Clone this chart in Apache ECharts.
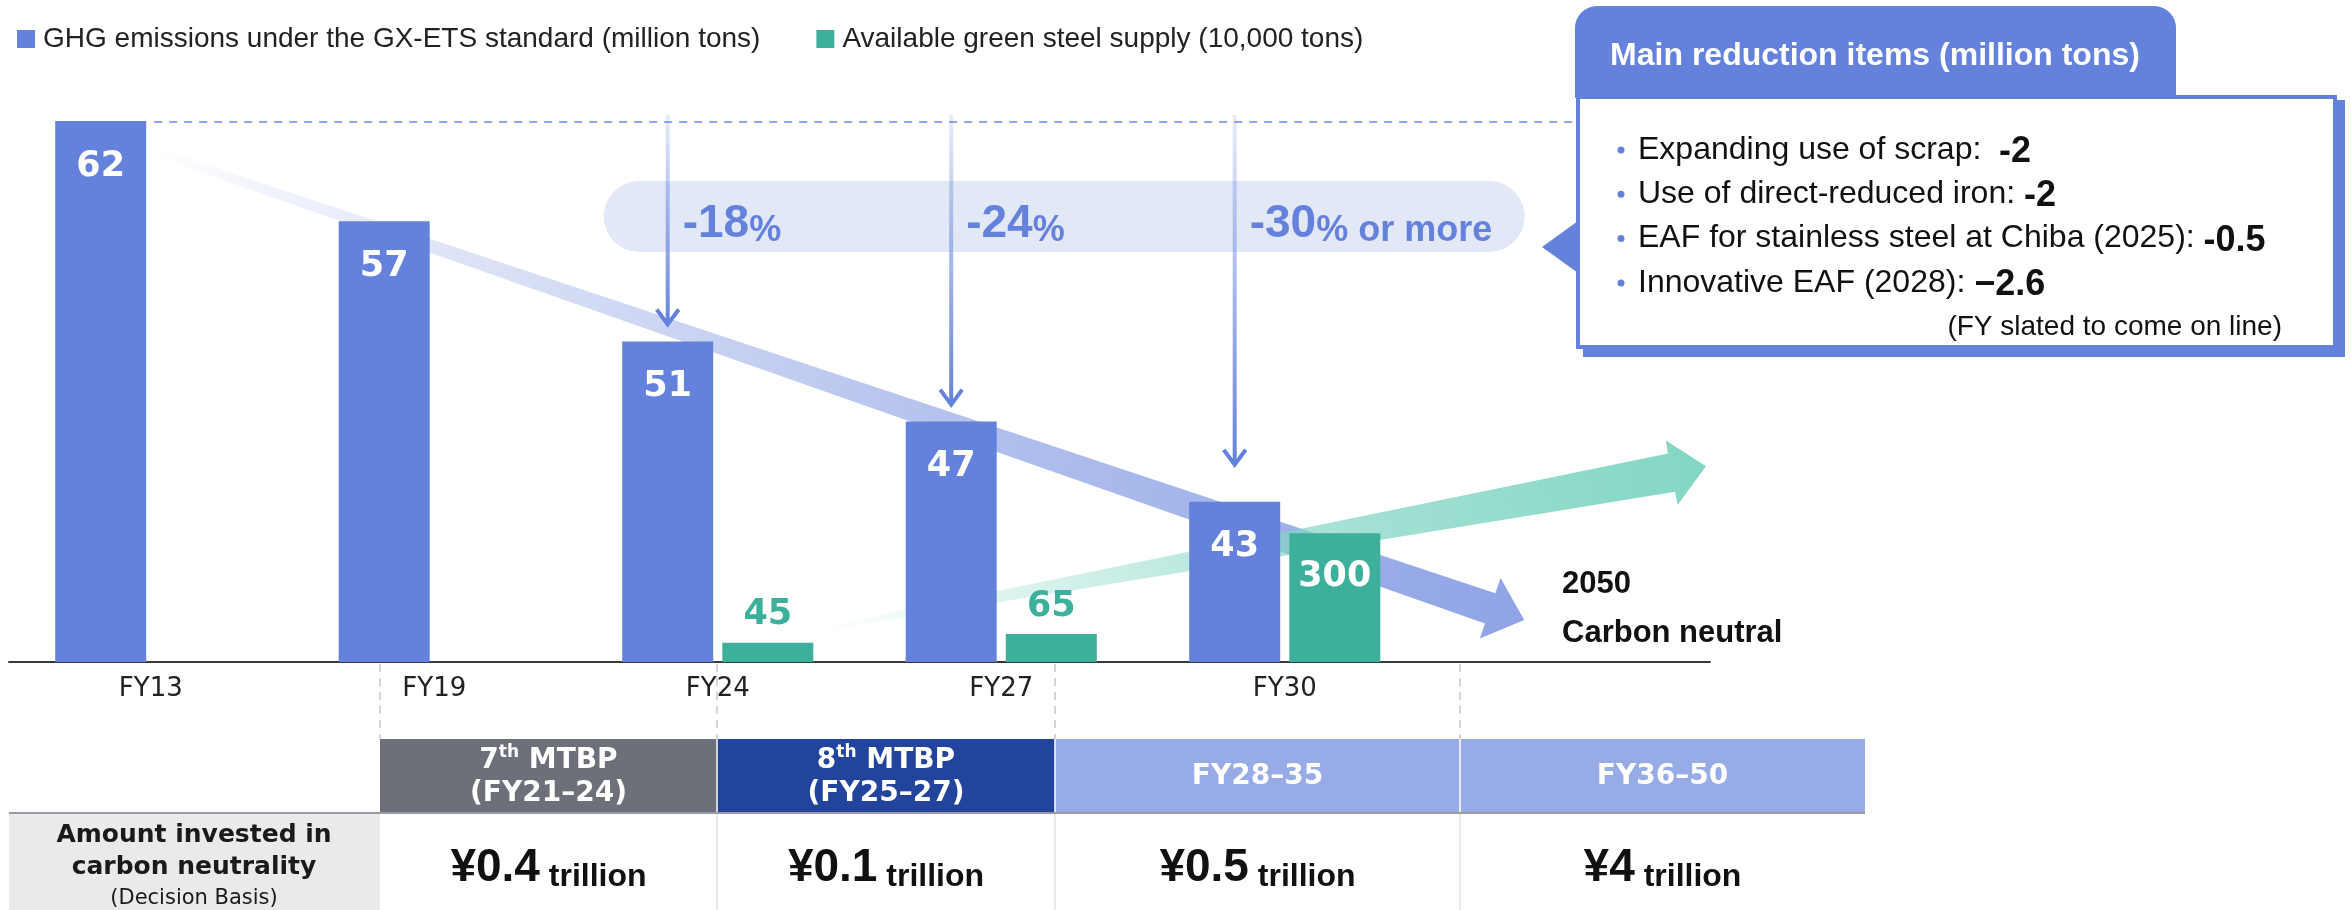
<!DOCTYPE html>
<html>
<head>
<meta charset="utf-8">
<script src="https://cdn.jsdelivr.net/npm/echarts@6/dist/echarts.min.js"></script>
<style>
  html, body { margin: 0; padding: 0; background: #fff; }
  #chart { width: 2351px; height: 910px; }
</style>
</head>
<body>
<div id="chart"></div>
<script>
// data
const categories = ["FY13", "FY19", "FY24", "FY27", "FY30", ""];
const ghgEmissions = [62, 57, 51, 47, 43, null];
const greenSteel = [null, null, 45, 65, 300, null];
const reductionCats = [2, 3, 4];
const reductionNums = ["-18", "-24", "-30"];
const reductionUnits = ["%", "%", "% or more"];
const reductionItems = [
  ["Expanding use of scrap:  ", "-2"],
  ["Use of direct-reduced iron: ", "-2"],
  ["EAF for stainless steel at Chiba (2025): ", "-0.5"],
  ["Innovative EAF (2028): ", "\u22122.6"]
];
const planOrd = ["7", "8", null, null];
const planPeriods = ["(FY21\u201324)", "(FY25\u201327)", "FY28\u201335", "FY36\u201350"];
const investAmounts = ["\u00a50.4", "\u00a50.1", "\u00a50.5", "\u00a54"];

const SANS = '"Liberation Sans", Arial, Helvetica, sans-serif';
const VERD = '"DejaVu Sans", Verdana, sans-serif';
const BLUE = "#6482DC";
const GREEN = "#3CB09A";
const BAR_W = 91;
const BAR_GAP = 9.1;

const chart = echarts.init(document.getElementById("chart"));

const greenData = greenSteel.map((v, i) =>
  i === 4 ? { value: v, label: { position: "insideTop", distance: 26, color: "#fff" } } : v
);

chart.setOption({
  animation: false,
  textStyle: { fontFamily: SANS },
  legend: {
    left: 12,
    top: 20,
    icon: "rect",
    itemWidth: 18,
    itemHeight: 18,
    itemGap: 56,
    textStyle: { fontFamily: SANS, fontSize: 28, color: "#222", padding: [0, 0, 0, 3] },
    data: [
      "GHG emissions under the GX-ETS standard (million tons)",
      "Available green steel supply (10,000 tons)"
    ]
  },
  grid: { left: 9, right: 641, top: 61, bottom: 248, outerBoundsMode: "none" },
  xAxis: {
    type: "category",
    data: categories,
    axisLine: { lineStyle: { color: "#3a3a3a", width: 2 } },
    axisTick: { show: false },
    splitLine: { show: false },
    axisLabel: { interval: 0, margin: 14, fontFamily: VERD, fontSize: 26, color: "#222" }
  },
  yAxis: [
    { type: "value", min: 35, max: 65, interval: 5, show: false, splitLine: { show: false } },
    { type: "value", min: 0, max: 1400, interval: 200, show: false, splitLine: { show: false } }
  ],
  series: [
    {
      name: "GHG emissions under the GX-ETS standard (million tons)",
      type: "bar",
      data: ghgEmissions,
      barWidth: BAR_W,
      barGap: "10%",
      itemStyle: { color: BLUE },
      label: {
        show: true, position: "insideTop", distance: 28,
        color: "#fff", fontFamily: VERD, fontSize: 35, fontWeight: "bold"
      }
    },
    {
      name: "Available green steel supply (10,000 tons)",
      type: "bar",
      yAxisIndex: 1,
      data: greenData,
      barWidth: BAR_W,
      barGap: "10%",
      itemStyle: { color: GREEN },
      label: {
        show: true, position: "top", distance: 10,
        color: GREEN, fontFamily: VERD, fontSize: 35, fontWeight: "bold"
      }
    }
  ]
});

// pixel helpers from the chart's own axes
const catX = i => chart.convertToPixel({ xAxisIndex: 0 }, i);
const yPix = v => chart.convertToPixel({ yAxisIndex: 0 }, v);
const y2Pix = v => chart.convertToPixel({ yAxisIndex: 1 }, v);
const step = catX(1) - catX(0);
const blueCx = i => catX(i) - (BAR_W + BAR_GAP) / 2;
const greenCx = i => catX(i) + (BAR_W + BAR_GAP) / 2;

function taperArrow(p0, tip, w0, w1, headW, headL) {
  const dx = tip[0] - p0[0], dy = tip[1] - p0[1];
  const len = Math.hypot(dx, dy);
  const ux = dx / len, uy = dy / len, nx = -uy, ny = ux;
  const bx = tip[0] - ux * headL, by = tip[1] - uy * headL;
  return [
    [p0[0] + nx * w0, p0[1] + ny * w0],
    [bx + nx * w1, by + ny * w1],
    [bx + nx * headW, by + ny * headW],
    tip,
    [bx - nx * headW, by - ny * headW],
    [bx - nx * w1, by - ny * w1],
    [p0[0] - nx * w0, p0[1] - ny * w0]
  ];
}

const G = [];
const BOX_X = 1578;

// dashed reference line at the FY13 level
const y62 = yPix(ghgEmissions[0]);
G.push({
  type: "line", z: 1,
  shape: { x1: blueCx(0) + BAR_W / 2 + 8, y1: y62 + 1, x2: BOX_X - 2, y2: y62 + 1 },
  style: { stroke: "#8FA6EE", lineWidth: 2, lineDash: [8, 7] }
});

// big blue trend arrow
const bStart = [blueCx(0) + BAR_W / 2 + 7, y62 + 30];
const bTip = [catX(5) - 44, yPix(37.1)];
G.push({
  type: "polygon", z: 1,
  shape: { points: taperArrow(bStart, bTip, 4, 16, 32, 36) },
  style: {
    fill: new echarts.graphic.LinearGradient(bStart[0], bStart[1], bTip[0], bTip[1], [
      { offset: 0, color: "rgba(151,171,230,0)" },
      { offset: 0.2, color: "rgba(151,171,230,0.3)" },
      { offset: 0.6, color: "rgba(151,171,230,0.75)" },
      { offset: 1, color: "rgba(143,164,230,1)" }
    ], true)
  }
});

// green supply arrow
const gStart = [greenCx(2) + BAR_W / 2 + 5, y2Pix(greenSteel[2]) - 13];
const gTip = [catX(5) + step / 2 - 4, y2Pix(456)];
G.push({
  type: "polygon", z: 1,
  shape: { points: taperArrow(gStart, gTip, 2, 19.5, 33, 35) },
  style: {
    fill: new echarts.graphic.LinearGradient(gStart[0], gStart[1], gTip[0], gTip[1], [
      { offset: 0, color: "rgba(131,214,196,0)" },
      { offset: 0.2, color: "rgba(131,214,196,0.25)" },
      { offset: 0.55, color: "rgba(131,214,196,0.7)" },
      { offset: 1, color: "rgba(131,214,196,1)" }
    ], true)
  }
});

// pale pill behind the reduction rates
const pillL = blueCx(reductionCats[0]) - 64;
const pillR = blueCx(reductionCats[2]) + 290;
G.push({
  type: "rect", z: 1,
  shape: { x: pillL, y: 181, width: pillR - pillL, height: 71, r: 35.5 },
  style: { fill: "#E3E8F6" }
});

// vertical arrows + rate labels
const arrowGap = [17, 17, 37];
reductionCats.forEach((ci, k) => {
  const x = blueCx(ci);
  const top = y62 - 6;
  const tipY = yPix(ghgEmissions[ci]) - arrowGap[k];
  G.push({
    type: "line", z: 3,
    shape: { x1: x, y1: top, x2: x, y2: tipY - 1 },
    style: {
      stroke: new echarts.graphic.LinearGradient(x, top, x, tipY, [
        { offset: 0, color: "rgba(100,130,220,0.15)" },
        { offset: 1, color: "rgba(100,130,220,1)" }
      ], true),
      lineWidth: 4
    }
  });
  G.push({
    type: "polyline", z: 3,
    shape: { points: [[x - 11, tipY - 15], [x, tipY], [x + 11, tipY - 15]] },
    style: { stroke: BLUE, lineWidth: 4, fill: null }
  });
  G.push({
    type: "text", z: 3, x: x + 15, y: 224,
    style: {
      text: "{a|" + reductionNums[k] + "}{b|" + reductionUnits[k] + "}",
      verticalAlign: "middle", align: "left",
      rich: {
        a: { fontFamily: SANS, fontSize: 46, fontWeight: "bold", fill: BLUE, lineHeight: 50 },
        b: { fontFamily: SANS, fontSize: 36, fontWeight: "bold", fill: BLUE, lineHeight: 40, verticalAlign: "bottom" }
      }
    }
  });
});

// 2050 carbon neutral note
G.push({
  type: "text", z: 3, x: 1562, y: 584,
  style: { text: "2050", fontFamily: SANS, fontSize: 31, fontWeight: "bold", fill: "#111", verticalAlign: "middle" }
});
G.push({
  type: "text", z: 3, x: 1562, y: 633,
  style: { text: "Carbon neutral", fontFamily: SANS, fontSize: 31, fontWeight: "bold", fill: "#111", verticalAlign: "middle" }
});

// callout box
G.push({ type: "rect", z: 5, shape: { x: 1583, y: 100, width: 762, height: 257 }, style: { fill: BLUE } });
G.push({
  type: "rect", z: 5,
  shape: { x: BOX_X, y: 97, width: 757, height: 250 },
  style: { fill: "#fff", stroke: BLUE, lineWidth: 4 }
});
G.push({
  type: "polygon", z: 5,
  shape: { points: [[BOX_X, 221], [1542, 247], [BOX_X, 273]] },
  style: { fill: BLUE }
});
G.push({
  type: "rect", z: 6,
  shape: { x: 1575, y: 6, width: 601, height: 92, r: [22, 22, 0, 0] },
  style: { fill: BLUE }
});
G.push({
  type: "text", z: 6, x: 1875, y: 56,
  style: {
    text: "Main reduction items (million tons)", fontFamily: SANS, fontSize: 32, fontWeight: "bold",
    fill: "#fff", align: "center", verticalAlign: "middle"
  }
});
reductionItems.forEach((it, k) => {
  const y = 150 + 44.3 * k;
  G.push({ type: "circle", z: 6, shape: { cx: 1621, cy: y, r: 3.5 }, style: { fill: BLUE } });
  G.push({
    type: "text", z: 6, x: 1638, y: y,
    style: {
      text: "{t|" + it[0] + "}{v|" + it[1] + "}",
      verticalAlign: "middle", align: "left",
      rich: {
        t: { fontFamily: SANS, fontSize: 32, fill: "#111", lineHeight: 38 },
        v: { fontFamily: SANS, fontSize: 36, fontWeight: "bold", fill: "#111", lineHeight: 40, verticalAlign: "bottom" }
      }
    }
  });
});
G.push({
  type: "text", z: 6, x: 2282, y: 327,
  style: { text: "(FY slated to come on line)", fontFamily: SANS, fontSize: 28, fill: "#111", align: "right", verticalAlign: "middle" }
});

// table under the axis
const colX = [380, 717, 1055, 1460, 1865];
const headFill = ["#6E7079", "#23449C", "#97ABE6", "#97ABE6"];
const HEAD_T = 739, HEAD_B = 813, TAB_B = 910;
colX.slice(0, 4).forEach(x => {
  G.push({
    type: "line", z: 1,
    shape: { x1: x, y1: yPix(35) + 2, x2: x, y2: HEAD_T },
    style: { stroke: "#C8C8C8", lineWidth: 1.5, lineDash: [8, 6] }
  });
});
G.push({ type: "rect", z: 1, shape: { x: 9, y: HEAD_B, width: colX[0] - 9, height: TAB_B - HEAD_B }, style: { fill: "#E9EAEC" } });
for (let c = 0; c < 4; c++) {
  const x0 = colX[c], x1 = colX[c + 1], cx = (x0 + x1) / 2;
  G.push({ type: "rect", z: 1, shape: { x: x0, y: HEAD_T, width: x1 - x0, height: HEAD_B - HEAD_T }, style: { fill: headFill[c] } });
  if (c > 0) {
    G.push({ type: "line", z: 2, shape: { x1: x0, y1: HEAD_T, x2: x0, y2: HEAD_B }, style: { stroke: "#fff", lineWidth: 1.5 } });
    G.push({ type: "line", z: 2, shape: { x1: x0, y1: HEAD_B, x2: x0, y2: TAB_B }, style: { stroke: "#E4E4E4", lineWidth: 1.5 } });
  }
  const headText = planOrd[c]
    ? "{n|" + planOrd[c] + "}{s|th}{n| MTBP}\n{n|" + planPeriods[c] + "}"
    : "{n|" + planPeriods[c] + "}";
  G.push({
    type: "text", z: 3, x: cx, y: (HEAD_T + HEAD_B) / 2 + 1,
    style: {
      text: headText, align: "center", verticalAlign: "middle",
      rich: {
        n: { fontFamily: VERD, fontSize: 28, fontWeight: "bold", fill: "#fff", lineHeight: 33 },
        s: { fontFamily: VERD, fontSize: 17, fontWeight: "bold", fill: "#fff", lineHeight: 22, verticalAlign: "top" }
      }
    }
  });
  G.push({
    type: "text", z: 3, x: cx, y: 868,
    style: {
      text: "{a|" + investAmounts[c] + "}{b| trillion}", align: "center", verticalAlign: "middle",
      rich: {
        a: { fontFamily: SANS, fontSize: 46, fontWeight: "bold", fill: "#111", lineHeight: 50 },
        b: { fontFamily: SANS, fontSize: 32, fontWeight: "bold", fill: "#111", lineHeight: 38, verticalAlign: "bottom" }
      }
    }
  });
}
G.push({ type: "line", z: 2, shape: { x1: 9, y1: HEAD_B, x2: colX[4], y2: HEAD_B }, style: { stroke: "#9A9AA2", lineWidth: 2 } });
G.push({
  type: "text", z: 3, x: 194, y: 867,
  style: {
    text: "{b|Amount invested in}\n{b|carbon neutrality}\n{r|(Decision Basis)}", align: "center", verticalAlign: "middle",
    rich: {
      b: { fontFamily: VERD, fontSize: 25, fontWeight: "bold", fill: "#1a1a1a", lineHeight: 32 },
      r: { fontFamily: VERD, fontSize: 21, fill: "#1a1a1a", lineHeight: 31 }
    }
  }
});

chart.setOption({ graphic: { elements: G } });
</script>
</body>
</html>
